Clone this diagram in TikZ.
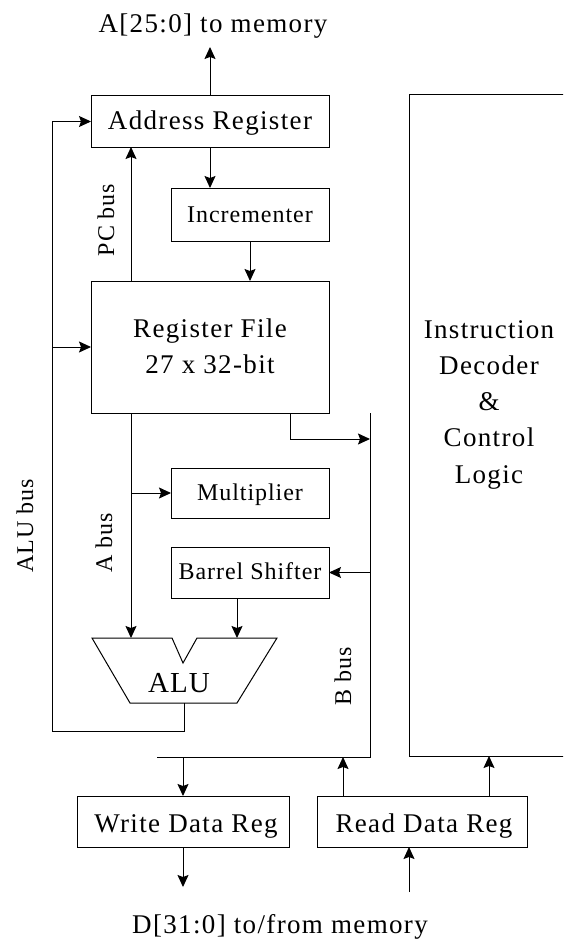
\documentclass[tikz,border=0pt]{standalone}
\usepackage{fontspec}
\setmainfont{Liberation Serif}
\newfontfamily\bigf[LetterSpace=5]{Liberation Serif}
\newfontfamily\smlf[LetterSpace=4]{Liberation Serif}
\usetikzlibrary{arrows.meta,calc}
\begin{document}
\begin{tikzpicture}[x=1pt,y=-1pt,line width=1pt,
  box/.style={draw,inner sep=0pt,outer sep=0pt},
  arr/.style={-{Stealth[length=12pt,width=11pt,inset=2pt]}},
  bigt/.style={font=\bigf\fontsize{27}{36}\selectfont,inner sep=0pt,anchor=base},
  smlt/.style={font=\smlf\fontsize{24}{30}\selectfont,inner sep=0pt,anchor=base},
  vlab/.style={font=\smlf\fontsize{24}{30}\selectfont,inner sep=0pt,rotate=90,anchor=center},
  alut/.style={font=\smlf\fontsize{29}{34}\selectfont,inner sep=0pt,anchor=base}]
\useasboundingbox (0,0) rectangle (563,939);
\clip (0,0) rectangle (563,939);
% boxes
\node[box,minimum width=238pt,minimum height=51pt] (ar) at (210,121.5) {};
\node[box,minimum width=158pt,minimum height=53pt] (inc) at (250,214.5) {};
\node[box,minimum width=238pt,minimum height=132pt] (rf) at (210,347) {};
\node[box,minimum width=158pt,minimum height=50pt] (mul) at (250,493) {};
\node[box,minimum width=158pt,minimum height=51pt] (bs) at (250,572.5) {};
\node[box,minimum width=212pt,minimum height=51pt] (wdr) at (183,821.5) {};
\node[box,minimum width=210pt,minimum height=51pt] (rdr) at (422,821.5) {};
\node[inner sep=0pt,outer sep=0pt,minimum width=191pt,minimum height=661pt] (id) at (504.5,425.5) {};
\draw (id.north east) -- (id.north west) -- (id.south west) -- (id.south east);
% ALU shape
\coordinate (a1) at (92,638);
\coordinate (a2) at (172,638);
\coordinate (a3) at (183,663);
\coordinate (a4) at (197,638);
\coordinate (a5) at (277,638);
\coordinate (a6) at (237,703);
\coordinate (a7) at (130,703);
\draw (a1) -- (a2) -- (a3) -- (a4) -- (a5) -- (a6) -- (a7) -- cycle;
% texts
\node[bigt] (atxt) at (213,33) {A[25:0] to memory};
\node[bigt] (artxt) at (210,130) {Address Register};
\node[smlt] (inctxt) at (250,222) {Incrementer};
\node[bigt] (rf1) at (210,337) {Register File};
\node[bigt] (rf2) at (210,373) {27 x 32-bit};
\node[smlt] (multxt) at (250,500) {Multiplier};
\node[smlt] (bstxt) at (250,579) {Barrel Shifter};
\node[alut] (alutxt) at (179,692) {ALU};
\node[bigt] (wdrtxt) at (186,832) {Write Data Reg};
\node[bigt] (rdrtxt) at (424,832) {Read Data Reg};
\node[bigt] (dtxt) at (280,933) {D[31:0] to/from memory};
\node[bigt] (id1) at (489,338) {Instruction};
\node[bigt] (id2) at (489,374.3) {Decoder};
\node[bigt] (id3) at (489,410.6) {\&};
\node[bigt] (id4) at (489,446.9) {Control};
\node[bigt] (id5) at (489,483.2) {Logic};
\node[vlab] (pclab) at (106,220) {PC bus};
\node[vlab] (alulab) at (25,526) {ALU bus};
\node[vlab] (alab) at (104,543) {A bus};
\node[vlab] (blab) at (343,676) {B bus};
% coordinates
\coordinate (atop) at (210,47);
\coordinate (pcx) at (131,0);
\coordinate (bsx) at (237,0);
\coordinate (rfo) at (290,0);
\coordinate (bx) at (370,0);
\coordinate (bj) at (370,439);
\coordinate (bbtop) at (370,413);
\coordinate (bbbot) at (370,757);
\coordinate (bbl) at (157,757);
\coordinate (alo) at (184,703);
\coordinate (albus) at (52,731);
\coordinate (dout) at (0,887);
\coordinate (rdx) at (343,0);
\coordinate (idx) at (489,0);
\coordinate (memin) at (409,892);
% connectors
\draw[arr] (ar.north) -- (atop);
\draw[arr] (ar.south) -- (ar.south |- inc.north);
\draw[arr] (inc.south) -- (inc.south |- rf.north);
\draw[arr] (pcx |- rf.north) -- (pcx |- ar.south);
\draw[arr] (pcx |- rf.south) -- (pcx |- a1);
\draw[arr] (pcx |- mul.west) -- (mul.west);
\draw[arr] (bsx |- bs.south) -- (bsx |- a5);
\draw[arr] (rfo |- rf.south) |- (bj);
\draw (bbl) -- (bbbot) -- (bbtop);
\draw[arr] (bx |- bs.east) -- (bs.east);
\draw[arr] (alo) |- (albus) |- (ar.west);
\draw[arr] (albus |- rf.west) -- (rf.west);
\draw[arr] (wdr.north |- bbl) -- (wdr.north);
\draw[arr] (wdr.south) -- (wdr.south |- dout);
\draw[arr] (rdx |- rdr.north) -- (rdx |- bbl);
\draw[arr] (idx |- rdr.north) -- (idx |- id.south);
\draw[arr] (memin) -- (memin |- rdr.south);
\end{tikzpicture}
\end{document}
